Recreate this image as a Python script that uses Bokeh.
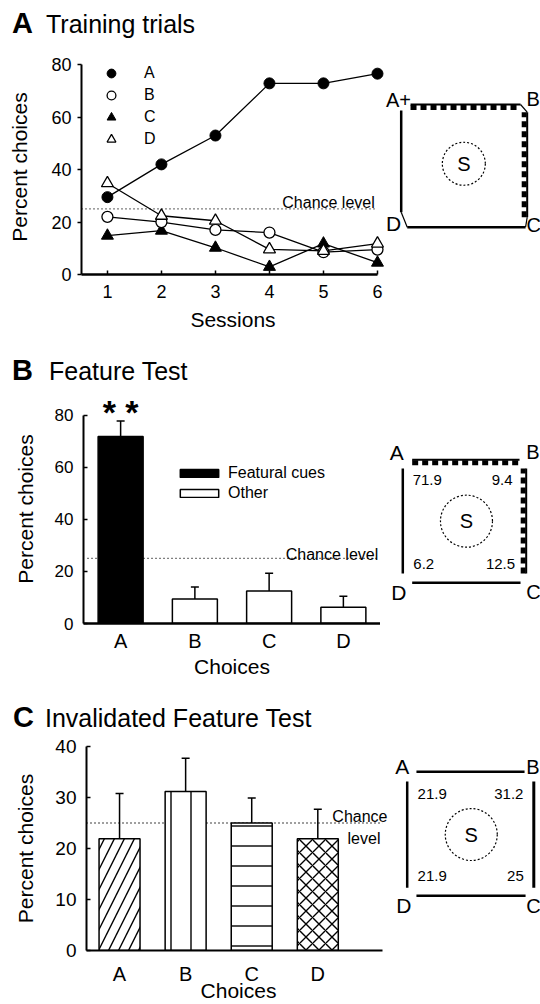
from bokeh.plotting import figure
from bokeh.layouts import row, column
from bokeh.models import (Range1d, FixedTicker, Label, Legend, LegendItem,
                          Whisker, TeeHead, ColumnDataSource, Div)
from bokeh.core.properties import value, field
from bokeh.embed import file_html
from bokeh.resources import INLINE

FONT = "Liberation Sans"

# ---------------- data ----------------
# Panel A: training trials
sessions = [1, 2, 3, 4, 5, 6]
train_A = [29.5, 42.0, 53.0, 72.9, 72.9, 76.6]
train_B = [22.0, 20.0, 17.0, 16.0, 8.5, 9.5]
train_C = [14.8, 16.7, 10.2, 2.9, 11.8, 4.5]
train_D = [34.8, 22.4, 20.5, 9.6, 9.0, 11.8]
y_ticks_A = [0, 20, 40, 60, 80]
chance = 25

# Panel B: feature test
choices = ["A", "B", "C", "D"]
feature_pct = [71.9, 9.4, 12.5, 6.2]
feature_err = [5.9, 4.6, 6.8, 4.3]
y_ticks_B = [0, 20, 40, 60, 80]

# Panel C: invalidated feature test
invalid_pct = [21.9, 31.2, 25.0, 21.9]
invalid_err = [8.9, 6.5, 4.9, 5.8]
y_ticks_C = [0, 10, 20, 30, 40]
invalid_hatch = ["/", "|", "-", "x"]
invalid_hatch_scale = [20, 20, 20, 13]


def base_style(p):
    p.outline_line_color = None
    p.xgrid.visible = False
    p.ygrid.visible = False
    p.background_fill_color = "white"
    p.border_fill_color = "white"
    for ax in p.axis:
        ax.axis_line_color = "black"
        ax.axis_line_width = 2
        ax.major_tick_line_color = "black"
        ax.major_tick_line_width = 1.5
        ax.minor_tick_line_color = None
        ax.major_label_text_font = FONT
        ax.axis_label_text_font = FONT
        ax.axis_label_text_font_style = "normal"
        ax.major_label_text_color = "black"
        ax.axis_label_text_color = "black"


def title_div(letter, text, h, lx, tx, base):
    html = (
        f'<div style="position:relative;width:540px;height:{h}px;font-family:\'{FONT}\';color:black;">'
        f'<span style="position:absolute;left:{lx}px;top:{base - 0.8465 * 29:.1f}px;'
        f'font-size:29px;line-height:1;font-weight:bold;white-space:nowrap;">{letter}</span>'
        f'<span style="position:absolute;left:{tx}px;top:{base - 0.8465 * 25:.1f}px;'
        f'font-size:25px;line-height:1;white-space:nowrap;">{text}</span></div>'
    )
    return Div(text=html, width=540, height=h, margin=0)


# ---------------- Panel A chart ----------------
pA = figure(width=384, height=295, min_border_left=81, min_border_right=0,
            min_border_top=14, min_border_bottom=66,
            x_range=Range1d(0.52, 6.13), y_range=Range1d(0, 82),
            output_backend="svg", toolbar_location=None)
base_style(pA)
pA.yaxis.ticker = FixedTicker(ticks=y_ticks_A)
pA.yaxis.bounds = (0, 80)
pA.yaxis.major_tick_in = 0
pA.yaxis.major_tick_out = 4
pA.yaxis.major_label_standoff = 6
pA.yaxis.major_label_text_font_size = "18px"
pA.yaxis.axis_label = "Percent choices"
pA.yaxis.axis_label_text_font_size = "21px"
pA.yaxis.axis_label_standoff = 17
pA.xaxis.ticker = FixedTicker(ticks=sessions)
pA.xaxis.bounds = (0.52, 6)
pA.xaxis.axis_line_width = 2.5
pA.xaxis.major_tick_in = 4
pA.xaxis.major_tick_out = 0
pA.xaxis.major_label_standoff = 10
pA.xaxis.major_label_text_font_size = "18px"
pA.xaxis.axis_label = "Sessions"
pA.xaxis.axis_label_text_font_size = "21px"
pA.xaxis.axis_label_standoff = 7

pA.line([0.52, 5.95], [chance, chance], line_color="black", line_width=1.3, line_dash="1 3")
pA.add_layout(Label(x=5.95, y=chance, text="Chance level", text_align="right",
                    text_baseline="alphabetic", y_offset=6, text_font=FONT,
                    text_font_size="16px", text_color="black"))

for ys in [train_A, train_B, train_C, train_D]:
    pA.line(sessions, ys, line_color="black", line_width=1.3)
rA = pA.scatter(sessions, train_A, marker="circle", size=11, fill_color="black", line_color="black")
rC = pA.scatter(sessions, train_C, marker="triangle", size=12, fill_color="black", line_color="black")
rB = pA.scatter(sessions, train_B, marker="circle", size=11, fill_color="white", line_color="black", line_width=1.3)
rD = pA.scatter(sessions, train_D, marker="triangle", size=12, fill_color="white", line_color="black", line_width=1.3)

legA = Legend(items=[LegendItem(label=l, renderers=[r]) for l, r in zip(choices, [rA, rB, rC, rD])],
              location=(19, 124), orientation="vertical", glyph_width=22, glyph_height=22,
              label_height=22, spacing=0, label_standoff=22, padding=0, margin=0,
              border_line_color=None, background_fill_alpha=0,
              label_text_font=FONT, label_text_font_size="16px", label_text_color="black")
pA.add_layout(legA)

# ---------------- Panel B chart ----------------
xs = [i + 0.5 for i in range(len(choices))]
pB = figure(width=380, height=292, min_border_left=83, min_border_right=0,
            min_border_top=6, min_border_bottom=57,
            x_range=Range1d(0, 4), y_range=Range1d(0, 88),
            output_backend="svg", toolbar_location=None)
base_style(pB)
pB.yaxis.ticker = FixedTicker(ticks=y_ticks_B)
pB.yaxis.bounds = (0, 80)
pB.yaxis.major_tick_in = 4
pB.yaxis.major_tick_out = 0
pB.yaxis.major_label_standoff = 10
pB.yaxis.major_label_text_font_size = "17px"
pB.yaxis.axis_label = "Percent choices"
pB.yaxis.axis_label_text_font_size = "21px"
pB.yaxis.axis_label_standoff = 15
pB.xaxis.ticker = FixedTicker(ticks=xs)
pB.xaxis.major_label_overrides = {x: c for x, c in zip(xs, choices)}
pB.xaxis.axis_line_width = 2.5
pB.xaxis.major_tick_in = 0
pB.xaxis.major_tick_out = 0
pB.xaxis.major_label_standoff = 6
pB.xaxis.major_label_text_font_size = "20px"
pB.xaxis.axis_label = "Choices"
pB.xaxis.axis_label_text_font_size = "21px"
pB.xaxis.axis_label_standoff = 0

pB.line([0.054, 3.97], [chance, chance], line_color="black", line_width=1.3, line_dash="1 3")
pB.add_layout(Label(x=3.97, y=chance, text="Chance level", text_align="right",
                    text_baseline="alphabetic", y_offset=4, text_font=FONT,
                    text_font_size="16px", text_color="black"))

srcB = ColumnDataSource(dict(x=xs, top=feature_pct,
                             upper=[v + e for v, e in zip(feature_pct, feature_err)]))
pB.add_layout(Whisker(source=srcB, base="x", lower="top", upper="upper",
                      line_color="black", line_width=1.5,
                      upper_head=TeeHead(size=8, line_width=1.5, line_color="black"),
                      lower_head=None))
rFeat = pB.vbar(x=xs[:1], top=feature_pct[:1], width=0.606, fill_color="black",
                line_color="black", line_width=1.5)
rOther = pB.vbar(x=xs[1:], top=feature_pct[1:], width=0.606, fill_color="white",
                 line_color="black", line_width=1.5)
legB = Legend(items=[LegendItem(label="Featural cues", renderers=[rFeat]),
                     LegendItem(label="Other", renderers=[rOther])],
              location=(92, 120), orientation="vertical", glyph_width=48, glyph_height=10,
              label_height=20, spacing=0, label_standoff=5, padding=0, margin=0,
              border_line_color=None, background_fill_alpha=0,
              label_text_font=FONT, label_text_font_size="16px", label_text_color="black")
pB.add_layout(legB)
pB.add_layout(Label(x=xs[0], y=feature_pct[0] + feature_err[0], text="* *", text_align="center",
                    text_baseline="alphabetic", y_offset=9, text_font=FONT,
                    text_font_style="bold", text_font_size="34px", text_color="black"))

# ---------------- Panel C chart ----------------
pC = figure(width=390, height=269, min_border_left=86, min_border_right=0,
            min_border_top=11, min_border_bottom=50,
            x_range=Range1d(0, 4.6), y_range=Range1d(0, 40),
            output_backend="svg", toolbar_location=None)
base_style(pC)
pC.yaxis.ticker = FixedTicker(ticks=y_ticks_C)
pC.yaxis.bounds = (0, 40)
pC.yaxis.major_tick_in = 4
pC.yaxis.major_tick_out = 0
pC.yaxis.major_label_standoff = 10
pC.yaxis.major_label_text_font_size = "19px"
pC.yaxis.axis_label = "Percent choices"
pC.yaxis.axis_label_text_font_size = "21px"
pC.yaxis.axis_label_standoff = 15
pC.xaxis.ticker = FixedTicker(ticks=xs)
pC.xaxis.bounds = (0, 4.48)
pC.xaxis.major_label_overrides = {x: c for x, c in zip(xs, choices)}
pC.xaxis.major_tick_in = 0
pC.xaxis.major_tick_out = 0
pC.xaxis.major_label_standoff = 12
pC.xaxis.major_label_text_font_size = "20px"
pC.xaxis.axis_label = "Choices"
pC.xaxis.axis_label_text_font_size = "21px"
pC.xaxis.axis_label_standoff = -9

pC.line([0, 4.48], [chance, chance], line_color="black", line_width=1.3, line_dash="1 3")
pC.add_layout(Label(x=3.72, y=chance, text="Chance", text_align="left",
                    text_baseline="alphabetic", y_offset=7, text_font=FONT,
                    text_font_size="16px", text_color="black"))
pC.add_layout(Label(x=3.95, y=chance, text="level", text_align="left",
                    text_baseline="alphabetic", y_offset=-15, text_font=FONT,
                    text_font_size="16px", text_color="black"))

srcC = ColumnDataSource(dict(x=xs, top=invalid_pct,
                             upper=[v + e for v, e in zip(invalid_pct, invalid_err)],
                             hatch=invalid_hatch, hs=invalid_hatch_scale))
pC.add_layout(Whisker(source=srcC, base="x", lower="top", upper="upper",
                      line_color="black", line_width=1.5,
                      upper_head=TeeHead(size=8, line_width=1.5, line_color="black"),
                      lower_head=None))
pC.vbar(x="x", top="top", width=0.62, source=srcC, fill_color="white", line_color="black",
        line_width=1.5, hatch_pattern=field("hatch"), hatch_scale=field("hs"),
        hatch_weight=1.4, hatch_color="black")


# ---------------- arena diagrams ----------------
def make_arena(fig_left, W, H, b_top, b_bottom, frame_top_page, frame_bottom_page, sq,
               plain, feat, links, corner_txt, circle, nums=None):
    L, T, R, B = sq
    sw, sh = R - L, B - T
    p = figure(width=W, height=H, min_border_left=0, min_border_right=0,
               min_border_top=b_top, min_border_bottom=b_bottom,
               x_axis_location=None, y_axis_location=None,
               x_range=Range1d((fig_left - L) / sw, (fig_left + W - L) / sw),
               y_range=Range1d((B - frame_bottom_page) / sh, (B - frame_top_page) / sh),
               output_backend="svg", toolbar_location=None)
    p.outline_line_color = None
    p.xgrid.visible = False
    p.ygrid.visible = False
    for (x0, y0, x1, y1, lw) in plain:
        p.line([x0, x1], [y0, y1], line_color="black", line_width=lw)
    for (x0, y0, x1, y1, nx, ny) in feat:
        p.line([x0, x1], [y0, y1], line_color="black", line_width=2)
        ox, oy = nx * 3 / sw, ny * 3 / sh
        p.line([x0 + ox, x1 + ox], [y0 + oy, y1 + oy], line_color="black", line_width=5,
               line_dash="6 4")
    for (x0, y0, x1, y1) in links:
        p.line([x0, x1], [y0, y1], line_color="black", line_width=1.2)
    for (t, x, y, al, fs) in corner_txt:
        p.text([x], [y], text=[t], text_align=al, text_baseline="middle",
               text_font=value(FONT), text_font_size=fs, text_color="black")
    cx, cy, d = circle
    p.scatter([cx], [cy], marker="circle", size=d, fill_color=None, line_color="black",
              line_width=1.2, line_dash="2 2")
    p.text([cx], [cy], text=["S"], text_align="center", text_baseline="middle",
           text_font=value(FONT), text_font_size="20px", text_color="black")
    if nums:
        vals, pos = nums
        for v, (x, y) in zip(vals, pos):
            p.text([x], [y], text=[f"{v:g}"], text_align="center", text_baseline="middle",
                   text_font=value(FONT), text_font_size="15px", text_color="black")
    return p


dA = make_arena(384, 156, 295, 14, 66, 59, 274, (400.7, 104, 526.7, 226.7),
                plain=[(0, 0.122, 0, 0.951, 2.5), (0.048, 0, 0.987, 0, 2.5)],
                feat=[(0.074, 1, 0.947, 1, 0, -1), (1, 0.081, 1, 0.937, -1, 0)],
                links=[(0.947, 1, 1, 0.937), (0.987, 0, 1, 0.081), (0, 0.122, 0.048, 0)],
                corner_txt=[("A+", -0.022, 1.035, "center", "20px"), ("B", 0.994, 1.046, "left", "20px"),
                            ("D", -0.061, 0.028, "center", "21px"), ("C", 0.994, 0.022, "left", "20px")],
                circle=(0.497, 0.517, 43))

dB = make_arena(380, 160, 292, 6, 57, 394, 623, (402.3, 459.3, 525.7, 582.3),
                plain=[(0, 0.076, 0, 0.929, 2.5), (0.076, 0, 0.954, 0, 2.5)],
                feat=[(0.076, 1, 0.946, 1, 0, -1), (1, 0.076, 1, 0.929, -1, 0)],
                links=[],
                corner_txt=[("A", -0.049, 1.062, "center", "21px"), ("B", 1.0, 1.062, "left", "20px"),
                            ("D", -0.032, -0.076, "center", "21px"), ("C", 1.0, -0.076, "left", "20px")],
                circle=(0.516, 0.501, 52),
                nums=(feature_pct, [(0.198, 0.837), (0.805, 0.837), (0.792, 0.149), (0.170, 0.149)]))

dC = make_arena(390, 150, 269, 11, 50, 746, 954, (406.7, 771.7, 533.3, 898.3),
                plain=[(0.073, 1, 0.927, 1, 2.5), (0, 0.066, 0, 0.921, 2.5),
                       (0.073, 0, 0.935, 0, 2.5), (1, 0.066, 1, 0.921, 3)],
                feat=[], links=[],
                corner_txt=[("A", -0.04, 1.039, "center", "21px"), ("B", 0.94, 1.039, "left", "20px"),
                            ("D", -0.027, -0.079, "center", "21px"), ("C", 0.94, -0.079, "left", "20px")],
                circle=(0.506, 0.494, 52),
                nums=(invalid_pct, [(0.197, 0.821), (0.803, 0.824), (0.855, 0.158), (0.197, 0.158)]))

tA = title_div("A", "Training trials", 45, 12, 46, 33)
tB = title_div("B", "Feature Test", 48, 12, 49, 40)
tC = title_div("C", "Invalidated Feature Test", 55, 13, 45, 47)

layout = column(tA, row(pA, dA), tB, row(pB, dB), tC, row(pC, dC))
open("out.html", "w").write(file_html(layout, INLINE))
